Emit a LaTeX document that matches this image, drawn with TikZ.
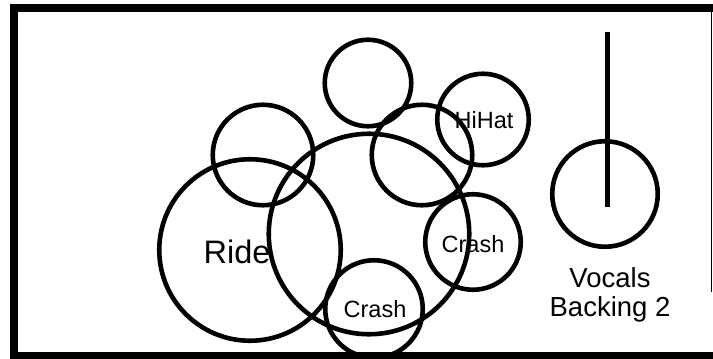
\documentclass[tikz,border=0pt]{standalone}
\usepackage{fontspec}
\setmainfont{Liberation Sans}
\usetikzlibrary{positioning}

\begin{document}
\begin{tikzpicture}[
        x=1pt,y=-1pt,
        every node/.style={font=\fontsize{23.5}{25}\selectfont},
        pad/.style={circle,draw,line width=4.6pt,inner sep=0pt},
        big/.style={font=\fontsize{32.5}{33}\selectfont},
        band/.style={fill=black,draw=none}
      ]
      \useasboundingbox (0,0) rectangle (713,359);
      % drum kit pieces
      \node[pad,minimum size=181.5pt] (ride) at (250,250) {};
      \node[pad,minimum size=200.5pt] (kit) at (369,234) {};
      \node[pad,minimum size=100.5pt] (tomleft) at (263,155) {};
      \node[pad,minimum size=86.5pt] (tomtop) at (368,83) {};
      \node[pad,minimum size=100.5pt] (tomright) at (422,155) {};
      \node[pad,minimum size=91.5pt] (hihat) at (483,119.5) {};
      \node[pad,minimum size=95.5pt] (crashright) at (473,242) {};
      \node[pad,minimum size=97.5pt] (crashlow) at (374,309) {};
      \node[big,anchor=base] (ridetext) at (237,263) {Ride};
      \node[anchor=base] (hihattext) at (484,128) {HiHat};
      \node[anchor=base] (crashrighttext) at (473,252) {Crash};
      \node[anchor=base] (crashlowtext) at (375,317) {Crash};
      % vocal mic
      \node[pad,minimum size=105.5pt] (mic) at (605,194) {};
      \coordinate (stemtop) at (607.5,32);
      \coordinate (stembot) at (607.5,207);
      \draw[line width=5pt] (stemtop) -- (stembot);
      \node[font=\fontsize{27.5}{29}\selectfont,align=center,anchor=north] (vocals) at (610,264) {Vocals\\Backing 2};
      % stage frame
      \fill[band] (10,3.5) rectangle (713,11.5);
      \fill[band] (10,3.5) rectangle (18,359);
      \fill[band] (10,352) rectangle (713,359);
      \draw[line width=1.5pt] (711.5,11) -- (711.5,292);
    \end{tikzpicture}
\end{document}
